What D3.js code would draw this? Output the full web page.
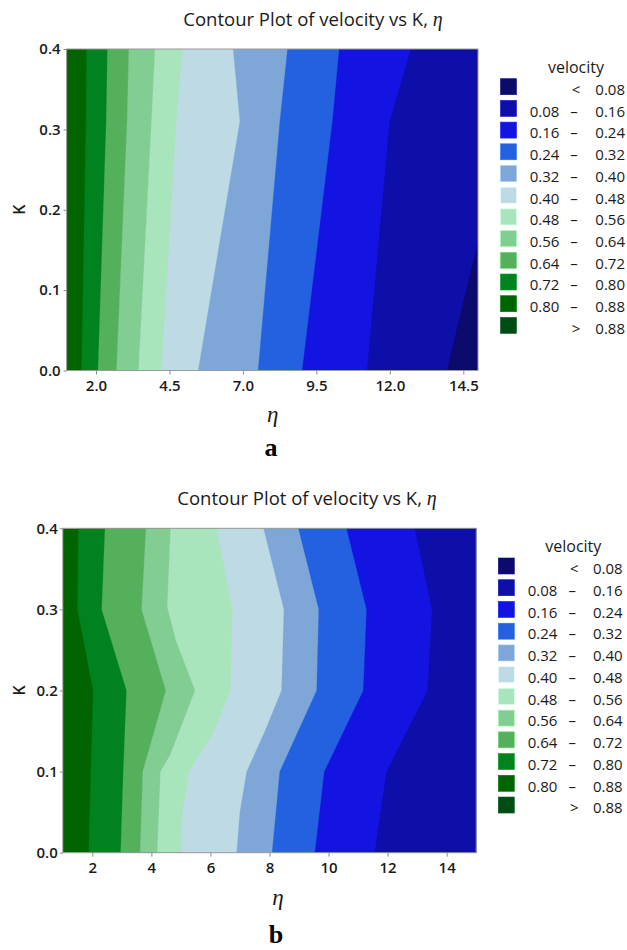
<!DOCTYPE html>
<html><head><meta charset="utf-8">
<script src="https://cdn.jsdelivr.net/npm/d3@7"></script>
<style>body{margin:0;background:#fff}svg{display:block}</style>
</head><body>
<svg id="chart" width="627" height="950"></svg>
<script>
// ---------------- data ----------------
const etaDomain = [1, 15];
const kDomain = [0, 0.4];
const kTicks = [0, 0.1, 0.2, 0.3, 0.4];
const etaTicksA = [2.0, 4.5, 7.0, 9.5, 12.0, 14.5];
const etaTicksB = [2, 4, 6, 8, 10, 12, 14];

// legend bands (lowest to highest velocity)
const bandLow  = [null, "0.08", "0.16", "0.24", "0.32", "0.40", "0.48", "0.56", "0.64", "0.72", "0.80", null];
const bandHigh = ["0.08", "0.16", "0.24", "0.32", "0.40", "0.48", "0.56", "0.64", "0.72", "0.80", "0.88", "0.88"];
const bandColors = ["#0b0b6c", "#0e0ea8", "#1414e2", "#2461e0", "#7ea7d8", "#bedbe5",
                    "#a8e5bd", "#82cd92", "#55b05c", "#00821f", "#006400", "#004c14"];

// contour lines: velocity level -> [K, eta] points (K ascending)
const linesA = [
  {level: 0.80, pts: [[0, 1.51], [0.31, 1.66], [0.4, 1.68]]},
  {level: 0.72, pts: [[0, 2.07], [0.31, 2.35], [0.4, 2.39]]},
  {level: 0.64, pts: [[0, 2.70], [0.31, 3.06], [0.4, 3.12]]},
  {level: 0.56, pts: [[0, 3.45], [0.31, 3.89], [0.4, 4.01]]},
  {level: 0.48, pts: [[0, 4.23], [0.31, 4.74], [0.4, 4.95]]},
  {level: 0.40, pts: [[0, 5.48], [0.31, 6.90], [0.4, 6.67]]},
  {level: 0.32, pts: [[0, 7.52], [0.31, 8.26], [0.4, 8.52]]},
  {level: 0.24, pts: [[0, 9.02], [0.31, 10.05], [0.4, 10.28]]},
  {level: 0.16, pts: [[0, 11.23], [0.31, 12.00], [0.4, 12.73]]},
  {level: 0.08, pts: [[0, 13.95], [0.16, 15.0], [0.4, 15.0]]}
];
const linesB = [
  {level: 0.80, pts: [[0, 1.88], [0.1, 1.95], [0.2, 2.03], [0.3, 1.50], [0.4, 1.53]]},
  {level: 0.72, pts: [[0, 2.96], [0.1, 3.05], [0.2, 3.16], [0.3, 2.32], [0.4, 2.43]]},
  {level: 0.64, pts: [[0, 3.62], [0.1, 3.71], [0.2, 4.49], [0.3, 3.67], [0.4, 3.82]]},
  {level: 0.56, pts: [[0, 4.20], [0.1, 4.31], [0.12, 4.63], [0.2, 5.48], [0.262, 4.83], [0.303, 4.54], [0.4, 4.65]]},
  {level: 0.48, pts: [[0, 5.00], [0.05, 5.06], [0.1, 5.28], [0.15, 6.12], [0.2, 6.68], [0.3, 6.75], [0.4, 6.21]]},
  {level: 0.40, pts: [[0, 6.89], [0.05, 7.00], [0.1, 7.23], [0.15, 7.85], [0.2, 8.41], [0.3, 8.49], [0.4, 7.80]]},
  {level: 0.32, pts: [[0, 8.09], [0.1, 8.35], [0.2, 9.60], [0.3, 9.67], [0.4, 8.98]]},
  {level: 0.24, pts: [[0, 9.54], [0.1, 9.86], [0.2, 11.18], [0.3, 11.29], [0.4, 10.61]]},
  {level: 0.16, pts: [[0, 11.57], [0.1, 11.97], [0.2, 13.36], [0.3, 13.51], [0.4, 12.93]]}
];

// ---------------- layout ----------------
const charts = [
  {id: "a", lines: linesA, ticks: etaTicksA, fmt: ".1f",
   left: 66.6, right: 478, top: 49, bottom: 370.5,
   titleX: 313, titleY: 26, etaX: 272.7, etaY: 421.5, capX: 271, capY: 456,
   leg: {sx: 500.5, b0: 95, step: 21.7, c1: 559.3, mid: 574, c2: 625, tx: 576, ty: 73}},
  {id: "b", lines: linesB, ticks: etaTicksB, fmt: "d",
   left: 62.8, right: 476.2, top: 528.3, bottom: 852.7,
   titleX: 307, titleY: 505, etaX: 278, etaY: 905, capX: 276, capY: 943,
   leg: {sx: 498.3, b0: 574.3, step: 21.73, c1: 557.3, mid: 572.3, c2: 622.7, tx: 573.3, ty: 551.5}}
];

const svg = d3.select("#chart");
const sans = "'Open Sans', 'Noto Sans', sans-serif";
const serif = "'Liberation Serif', 'DejaVu Serif', serif";

charts.forEach(c => {
  const x = d3.scaleLinear().domain(etaDomain).range([c.left, c.right]);
  const y = d3.scaleLinear().domain(kDomain).range([c.bottom, c.top]);
  const g = svg.append("g");

  const clipId = "clip-" + c.id;
  g.append("clipPath").attr("id", clipId).append("rect")
    .attr("x", c.left).attr("y", c.top)
    .attr("width", c.right - c.left).attr("height", c.bottom - c.top);

  const plot = g.append("g").attr("clip-path", `url(#${clipId})`);
  const maxLevel = d3.max(c.lines, d => d.level);
  const baseIdx = Math.round(maxLevel / 0.08);
  plot.append("rect")
    .attr("x", x(etaDomain[0])).attr("y", y(kDomain[1]))
    .attr("width", x(etaDomain[1]) - x(etaDomain[0]))
    .attr("height", y(kDomain[0]) - y(kDomain[1]))
    .attr("fill", bandColors[baseIdx]);

  const line = d3.line().x(d => x(d[1])).y(d => y(d[0]));
  c.lines.slice().sort((a, b) => b.level - a.level).forEach(l => {
    const col = bandColors[Math.round(l.level / 0.08) - 1];
    const poly = l.pts.concat([[kDomain[1], etaDomain[1] + 0.2], [kDomain[0], etaDomain[1] + 0.2]]);
    plot.append("path")
      .attr("d", line(poly) + "Z")
      .attr("fill", col).attr("stroke", col).attr("stroke-width", 0.3);
  });

  // border
  g.append("rect")
    .attr("x", c.left).attr("y", c.top)
    .attr("width", c.right - c.left).attr("height", c.bottom - c.top)
    .attr("fill", "none").attr("stroke", "#9a9a9a").attr("stroke-width", 1);

  // x axis
  const xa = g.append("g").attr("transform", `translate(0,${c.bottom})`)
    .call(d3.axisBottom(x).tickValues(c.ticks).tickSize(4).tickPadding(6).tickFormat(d3.format(c.fmt)));
  xa.select(".domain").remove();
  xa.selectAll(".tick line").attr("stroke", "#8a8a8a");
  xa.selectAll(".tick text").attr("font-family", sans).attr("font-size", 15)
    .attr("font-weight", 600).attr("fill", "#1a1a1a");

  // y axis
  const ya = g.append("g").attr("transform", `translate(${c.left},0)`)
    .call(d3.axisLeft(y).tickValues(kTicks).tickSize(3).tickPadding(c.id === "a" ? 3 : 2).tickFormat(d3.format(".1f")));
  ya.select(".domain").remove();
  ya.selectAll(".tick line").attr("stroke", "#8a8a8a");
  ya.selectAll(".tick text").attr("font-family", sans).attr("font-size", 15)
    .attr("font-weight", 600).attr("fill", "#1a1a1a");

  // axis labels
  g.append("text").attr("transform", `translate(25,${(c.top + c.bottom) / 2}) rotate(-90)`)
    .attr("text-anchor", "middle").attr("font-family", sans).attr("font-size", 16)
    .attr("font-weight", 600).attr("fill", "#1a1a1a").text("K");
  g.append("text").attr("x", c.etaX).attr("y", c.etaY).attr("text-anchor", "middle")
    .attr("font-family", serif).attr("font-style", "italic").attr("font-size", 23)
    .attr("fill", "#1a1a1a").text("η");

  // title
  const t = g.append("text").attr("x", c.titleX).attr("y", c.titleY).attr("text-anchor", "middle")
    .attr("font-family", sans).attr("font-size", 18.5).attr("fill", "#1a1a1a");
  t.append("tspan").text("Contour Plot of velocity vs K, ");
  t.append("tspan").attr("font-family", serif).attr("font-style", "italic").attr("font-size", 20).text("η");

  // caption
  g.append("text").attr("x", c.capX).attr("y", c.capY).attr("text-anchor", "middle")
    .attr("font-family", serif).attr("font-weight", "bold").attr("font-size", 26)
    .attr("fill", "#000").text(c.id);

  // legend
  const L = c.leg;
  const lg = g.append("g").attr("font-family", sans).attr("font-size", 15).attr("fill", "#1a1a1a");
  lg.append("text").attr("x", L.tx).attr("y", L.ty).attr("text-anchor", "middle")
    .attr("font-size", 16).text("velocity");
  bandColors.forEach((col, i) => {
    const by = L.b0 + L.step * i;
    lg.append("rect").attr("x", L.sx).attr("y", by - 16.3).attr("width", 16).attr("height", 16)
      .attr("fill", col).attr("stroke", d3.color(col).brighter(0.6)).attr("stroke-width", 0.6);
    if (bandLow[i] === null) {
      lg.append("text").attr("x", L.mid + 2).attr("y", by).attr("text-anchor", "middle")
        .text(i === 0 ? "<" : ">");
    } else {
      lg.append("text").attr("x", L.c1).attr("y", by).attr("text-anchor", "end").text(bandLow[i]);
      lg.append("text").attr("x", L.mid).attr("y", by).attr("text-anchor", "middle").text("–");
    }
    lg.append("text").attr("x", L.c2).attr("y", by).attr("text-anchor", "end").text(bandHigh[i]);
  });
});
</script>
</body></html>
